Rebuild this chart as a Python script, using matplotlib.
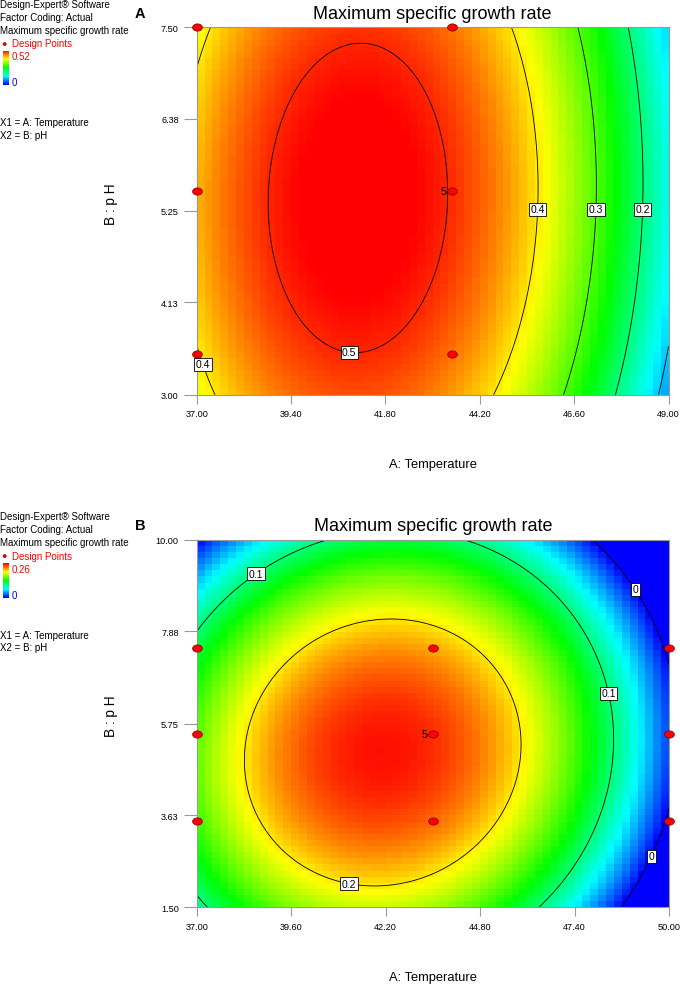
import numpy as np
import matplotlib
matplotlib.use("Agg")
import matplotlib.pyplot as plt
from matplotlib.colors import LinearSegmentedColormap

plt.rcParams["font.family"] = ["Liberation Sans", "DejaVu Sans"]

W, H = 680, 987

# fitted response surface: peak, T_opt, pH_opt, curvature T, curvature pH, interaction
coef_a = [0.533, 41.1, 5.41, 0.00634, 0.0092, 0.00048]
coef_b = [0.256, 42.12, 5.08, 0.003876, 0.0059, 0.00057]

# axes ranges and ticks
xlim_a, ylim_a = (37.0, 49.0), (3.0, 7.5)
xlim_b, ylim_b = (37.0, 50.0), (1.5, 10.0)
xticks_a = [37.00, 39.40, 41.80, 44.20, 46.60, 49.00]
yticks_a = [3.00, 4.13, 5.25, 6.38, 7.50]
xticks_b = [37.00, 39.60, 42.20, 44.80, 47.40, 50.00]
yticks_b = [1.50, 3.63, 5.75, 7.88, 10.00]

levels_a = [0.1, 0.2, 0.3, 0.4, 0.5]
levels_b = [0.0, 0.1, 0.2]
vmax_a, vmax_b = 0.52, 0.26

# design points (temperature, pH)
design_T_a = [37, 43.5, 37, 43.5, 37, 43.5]
design_pH_a = [7.5, 7.5, 5.5, 5.5, 3.5, 3.5]
design_T_b = [37, 43.5, 50, 37, 43.5, 50, 37, 43.5, 50]
design_pH_b = [7.5, 7.5, 7.5, 5.5, 5.5, 5.5, 3.5, 3.5, 3.5]
center_point = (43.5, 5.5)

# contour label spots
labels_a = [(37.2, 3.38), (40.9, 3.6), (45.65, 5.27), (47.1, 5.27), (48.28, 5.27)]
labels_b = [(38.53, 9.34), (49.16, 8.9), (48.36, 6.45), (41.22, 2.21), (49.43, 2.71)]

cmap = LinearSegmentedColormap.from_list(
    "de", ["#0000ff", "#00ffff", "#00ff00", "#ffff00", "#ff0000"])


def surface(coef, T, pH):
    m, t0, p0, kt, kp, c = coef
    dt, dp = T - t0, pH - p0
    return m - kt * dt ** 2 - kp * dp ** 2 + c * dt * dp


def fx(px):
    return px / W


def fy(py):
    return 1 - py / H


fig = plt.figure(figsize=(W / 100, H / 100), dpi=100)


def panel(rect, coef, xlim, ylim, xticks, yticks, levels, vmax, dT, dpH, lab_pos):
    ax = fig.add_axes(rect)
    # coarse cells like Design-Expert rendering
    xe = np.linspace(*xlim, 61)
    ye = np.linspace(*ylim, 61)
    xc, yc = (xe[:-1] + xe[1:]) / 2, (ye[:-1] + ye[1:]) / 2
    Z = surface(coef, *np.meshgrid(xc, yc))
    ax.pcolormesh(xe, ye, Z, cmap=cmap, vmin=0, vmax=vmax, shading="flat")

    xf = np.linspace(*xlim, 300)
    yf = np.linspace(*ylim, 300)
    Zf = surface(coef, *np.meshgrid(xf, yf))
    cs = ax.contour(xf, yf, Zf, levels=levels, colors="black", linewidths=0.6)
    texts = ax.clabel(cs, levels, inline=False, fmt="%g", fontsize=7.5,
                      manual=lab_pos)
    for t in texts:
        t.set_rotation(0)
        t.set_clip_on(False)
        t.set_zorder(7)
        t.set_bbox(dict(boxstyle="square,pad=0.15", facecolor="white",
                        edgecolor="black", linewidth=0.6))

    ax.scatter(dT, dpH, s=50, marker=[(1.35 * np.cos(a), np.sin(a))
                                      for a in np.linspace(0, 2 * np.pi, 30)],
               facecolor="#ff0000", edgecolor="#7a0000", linewidth=0.5,
               zorder=5, clip_on=False)
    ax.annotate("5", center_point, xytext=(-4, 0), textcoords="offset points",
                ha="right", va="center", fontsize=8, zorder=6)

    ax.set_xlim(*xlim)
    ax.set_ylim(*ylim)
    ax.set_xticks(xticks)
    ax.set_yticks(yticks)
    ax.set_xticklabels([f"{v:.2f}" for v in xticks])
    ax.set_yticklabels([f"{v:.2f}" for v in yticks])
    ax.tick_params(axis="x", length=6.5, width=0.8, color="#999999", pad=4,
                   labelsize=6.6)
    ax.tick_params(axis="y", length=9.4, width=0.8, color="#999999", pad=3.5,
                   labelsize=6.6)
    for s in ax.spines.values():
        s.set_color("#999999")
        s.set_linewidth(0.8)

    ax.set_title("Maximum specific growth rate", fontsize=13, pad=7)
    ax.set_xlabel("A: Temperature", fontsize=9.3, va="center")
    ax.xaxis.set_label_coords(0.5, -0.189)
    ax.set_ylabel("B : p H", fontsize=9.8, va="center")
    ax.yaxis.set_label_coords(-0.182, 0.522)
    return ax


rect_a = [fx(196.7), fy(395.7), (668.5 - 196.7) / W, 367.4 / H]
rect_b = [fx(196.7), fy(908.3), (669.0 - 196.7) / W, 367.6 / H]
panel(rect_a, coef_a, xlim_a, ylim_a, xticks_a, yticks_a, levels_a, vmax_a,
      design_T_a, design_pH_a, labels_a)
panel(rect_b, coef_b, xlim_b, ylim_b, xticks_b, yticks_b, levels_b, vmax_b,
      design_T_b, design_pH_b, labels_b)


def side_notes(off, vmax, letter):
    fs = 7
    fig.text(fx(0.5), fy(5 + off), "Design-Expert® Software", fontsize=fs, va="center")
    fig.text(fx(0.5), fy(17.7 + off), "Factor Coding: Actual", fontsize=fs, va="center")
    fig.text(fx(0.5), fy(31 + off), "Maximum specific growth rate", fontsize=fs, va="center")
    fig.text(fx(1.2), fy(44 + off), "●", fontsize=6.5, color="#dd0000", va="center")
    fig.text(fx(11.7), fy(44 + off), "Design Points", fontsize=fs, color="#ff0000", va="center")
    cax = fig.add_axes([fx(2.7), fy(86 + off), 5.6 / W, 34.3 / H])
    cax.imshow(np.linspace(0, 1, 64)[:, None], cmap=cmap, aspect="auto", origin="lower")
    cax.axis("off")
    fig.text(fx(11.7), fy(57.3 + off), f"{vmax:.2f}", fontsize=fs, color="#ff0000", va="center")
    fig.text(fx(11.7), fy(83.3 + off), "0", fontsize=fs, color="#0000ff", va="center")
    fig.text(fx(0.5), fy(123.3 + off), "X1 = A: Temperature", fontsize=fs, va="center")
    fig.text(fx(0.5), fy(136 + off), "X2 = B: pH", fontsize=fs, va="center")
    fig.text(fx(140), fy(14 + off), letter, fontsize=10.5, fontweight="bold",
             ha="center", va="center")


side_notes(0, vmax_a, "A")
side_notes(512.5, vmax_b, "B")

fig.savefig("out.png", dpi=100)
